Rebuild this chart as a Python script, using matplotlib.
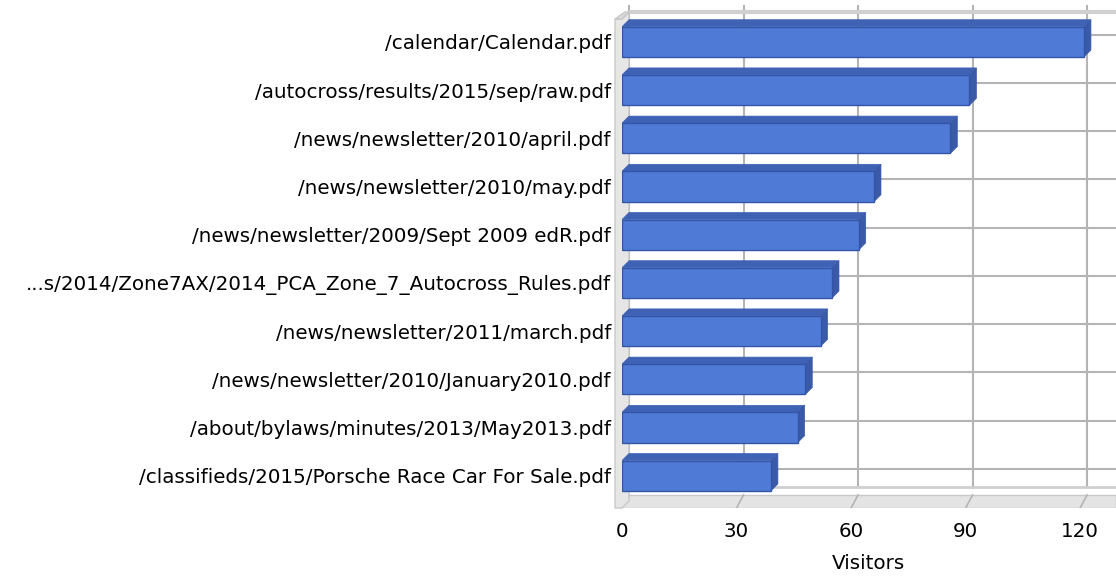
import matplotlib as mpl
mpl.use('Agg')
import matplotlib.pyplot as plt
import matplotlib.transforms as mtransforms
from matplotlib.patches import Polygon

# data, top to bottom as shown
pages = ['/calendar/Calendar.pdf',
         '/autocross/results/2015/sep/raw.pdf',
         '/news/newsletter/2010/april.pdf',
         '/news/newsletter/2010/may.pdf',
         '/news/newsletter/2009/Sept 2009 edR.pdf',
         '...s/2014/Zone7AX/2014_PCA_Zone_7_Autocross_Rules.pdf',
         '/news/newsletter/2011/march.pdf',
         '/news/newsletter/2010/January2010.pdf',
         '/about/bylaws/minutes/2013/May2013.pdf',
         '/classifieds/2015/Porsche Race Car For Sale.pdf']
visitors = [121, 91, 86, 66, 62, 55, 52, 48, 46, 39]
xticks = [0, 30, 60, 90, 120]
xlabel = 'Visitors'

W, H = 1116, 578
fig = plt.figure(figsize=(W / 100, H / 100), dpi=100)
# axes area in pixels (front plane)
x0, x1 = 622, 1116
y0, y1 = 508, 12
ax = fig.add_axes([x0 / W, 1 - y0 / H, (x1 - x0) / W, (y0 - y1) / H])

xmax = 129.4
n = len(pages)
ypos = list(range(n - 1, -1, -1))
ytop = n - 0.38
ax.set_xlim(0, xmax)
ax.set_ylim(-0.67, ytop)

depth = 7  # px
ddx = depth * xmax / (x1 - x0)
ddy = depth * (ytop + 0.67) / (y0 - y1)
back = mtransforms.offset_copy(ax.transData, fig=fig, x=depth, y=depth, units='dots')

gridc = '#b4b4b4'
floor_top = -0.40
# back wall grid
ax.vlines(xticks, floor_top, ytop, colors=gridc, lw=1.5, transform=back, zorder=1, clip_on=False)
ax.hlines(ypos, 0, xmax, colors=gridc, lw=1.5, transform=back, zorder=1)
ax.hlines([ytop - ddy], 0, xmax, colors='#d0d0d0', lw=3, transform=back, zorder=1, clip_on=False)

# floor
ax.add_patch(Polygon([(0, -0.67), (xmax, -0.67), (xmax, floor_top), (0, floor_top)],
                     closed=True, facecolor='#e4e4e4', edgecolor='#c8c8c8', lw=1, zorder=2))
ax.hlines([floor_top + 0.02], 0, xmax, colors='#cfcfcf', lw=2, transform=back, zorder=2)
for t in xticks:
    ax.plot([t, t + ddx], [-0.67, floor_top], color=gridc, lw=1.2, zorder=2)

# left wall
ax.add_patch(Polygon([(-ddx, -0.67), (0, -0.67), (ddx, -0.67 + ddy), (ddx, ytop),
                      (0, ytop - ddy), (-ddx, ytop - ddy)],
                     closed=True, facecolor='#e6e6e6', edgecolor='#c8c8c8', lw=1,
                     zorder=2, clip_on=False))
ax.add_patch(Polygon([(-ddx, ytop - ddy), (0, ytop - ddy), (ddx, ytop),
                      (ddx * 0.4, ytop)],
                     closed=True, facecolor='#d9d9d9', edgecolor='#c8c8c8', lw=1,
                     zorder=2, clip_on=False))

# bars with 3D faces
bh = 0.63
front = '#4f7bd6'
topc = '#3f62b5'
sidec = '#3a59a6'
edge = '#3355a8'
for y, v in zip(ypos, visitors):
    ax.add_patch(Polygon([(0, y + bh / 2), (v, y + bh / 2), (v + ddx, y + bh / 2 + ddy),
                          (ddx, y + bh / 2 + ddy)], closed=True,
                         facecolor=topc, edgecolor=topc, lw=0.5, zorder=3))
    ax.add_patch(Polygon([(v, y - bh / 2), (v + ddx, y - bh / 2 + ddy),
                          (v + ddx, y + bh / 2 + ddy), (v, y + bh / 2)], closed=True,
                         facecolor=sidec, edgecolor=sidec, lw=0.5, zorder=3))
ax.barh(ypos, visitors, height=bh, color=front, edgecolor=edge, lw=1, zorder=4)

for s in ax.spines.values():
    s.set_visible(False)

fs = 14.3
ax.set_yticks(ypos)
ax.set_yticklabels(pages, fontsize=fs)
ax.set_xticks(xticks)
ax.set_xticklabels([str(t) for t in xticks], fontsize=fs)
ax.tick_params(axis='y', length=5, color='#b0b0b0', pad=3)
ax.tick_params(axis='x', length=0, pad=10)
ax.set_xlabel(xlabel, fontsize=fs)
ax.xaxis.set_label_coords((868 - x0) / (x1 - x0), -(554 - y0) / (y0 - y1))

fig.savefig('out.png', dpi=100)
